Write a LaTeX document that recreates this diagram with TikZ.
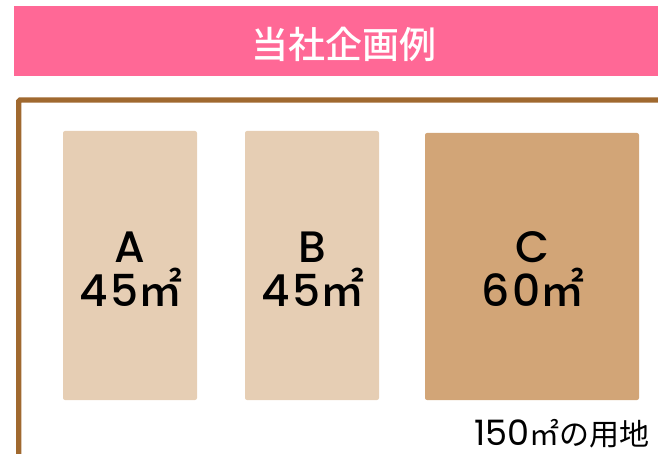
\documentclass[tikz,border=0pt]{standalone}
\usepackage{fontspec}
\setmainfont{Poppins}
\newfontfamily\popmed{Poppins Medium}[LetterSpace=6]
\newfontfamily\jpfont{Noto Sans CJK JP}
\newfontfamily\jpmed{Noto Sans CJK JP Medium}
\definecolor{headpink}{HTML}{FF6896}
\definecolor{framebrown}{HTML}{A0692F}
\definecolor{lighttan}{HTML}{E6CEB4}
\definecolor{darktan}{HTML}{D2A577}
\begin{document}
\begin{tikzpicture}[x=1pt,y=-1pt,
  plot/.style={rounded corners=2pt},
  lbl/.style={anchor=base,font=\popmed\fontsize{44}{44}\selectfont,text=black,inner sep=0pt}]
\useasboundingbox (0,0) rectangle (658,454);
\clip (0,0) rectangle (658,454);
% header
\fill[headpink] (14,6) rectangle (680,76);
\node[inner sep=0pt,text=white,font=\jpmed\fontsize{37}{37}\selectfont] (title) at (344,44) {当社企画例};
% site frame
\draw[framebrown,line width=5.4pt,rounded corners=1.5pt] (18.7,480) -- (18.7,100) -- (680,100);
% plots
\fill[plot,lighttan] (63,131) rectangle (197,400);
\fill[plot,lighttan] (245,131) rectangle (379,400);
\fill[plot,darktan] (425,133) rectangle (639,400);
\node[lbl] (la) at (130,262) {A};
\node[lbl] (aa) at (131,306) {45{\jpmed ㎡}};
\node[lbl] (lb) at (312,262) {B};
\node[lbl] (ab) at (313,306) {45{\jpmed ㎡}};
\node[lbl] (lc) at (532,262) {C};
\node[lbl] (ac) at (533,306) {60{\jpmed ㎡}};
% site label
\node[anchor=base west,inner sep=0pt] (site) at (474,445.5) {{\fontsize{35}{35}\selectfont 150}{\jpfont\fontsize{30}{30}\selectfont ㎡の用地}};
\end{tikzpicture}
\end{document}
